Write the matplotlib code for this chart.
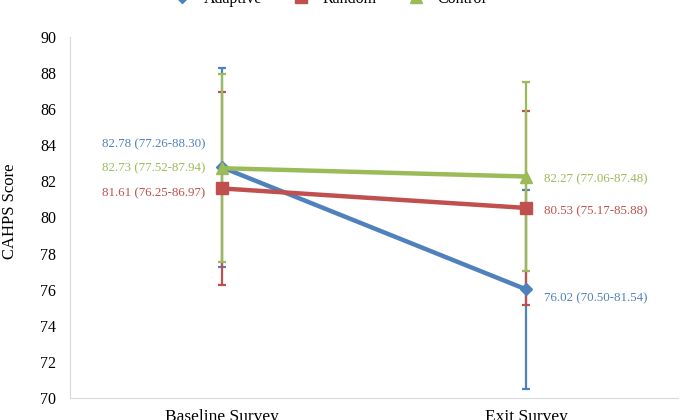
import matplotlib.pyplot as plt
from matplotlib.lines import Line2D

plt.rcParams['font.family'] = ['Liberation Serif', 'DejaVu Serif']

surveys = ["Baseline Survey", "Exit Survey"]
groups = ["Adaptive", "Random", "Control"]
means = {
    "Adaptive": [82.78, 76.02],
    "Random": [81.61, 80.53],
    "Control": [82.73, 82.27],
}
lower = {
    "Adaptive": [77.26, 70.50],
    "Random": [76.25, 75.17],
    "Control": [77.52, 77.06],
}
upper = {
    "Adaptive": [88.30, 81.54],
    "Random": [86.97, 85.88],
    "Control": [87.94, 87.48],
}

colors = {"Adaptive": "#4F81BD", "Random": "#C0504D", "Control": "#9BBB59"}
markers = {"Adaptive": "D", "Random": "s", "Control": "^"}
msizes = {"Adaptive": 6, "Random": 8, "Control": 8}
# label offsets in pixels (dx, dy) for each point
offsets = {
    "Adaptive": [(-17, 23), (18, -9)],
    "Random": [(-17, -5), (18, -3)],
    "Control": [(-17, 0), (18, -3)],
}

fig = plt.figure(figsize=(6.81, 4.2), dpi=100)
ax = fig.add_axes([70 / 681, 1 - 398 / 420, 608 / 681, 361 / 420])

x = list(range(len(surveys)))
handles = []
for g in groups:
    m = means[g]
    err = [[m[i] - lower[g][i] for i in x], [upper[g][i] - m[i] for i in x]]
    ax.errorbar(x, m, yerr=err, color=colors[g], lw=3.2, marker=markers[g],
                ms=msizes[g], elinewidth=1.6, capsize=3, capthick=1.6)
    handles.append(Line2D([], [], color=colors[g], lw=3.2, marker=markers[g],
                          ms=msizes[g], label=g))
    for i in x:
        txt = f"{m[i]:.2f} ({lower[g][i]:.2f}-{upper[g][i]:.2f})"
        dx, dy = offsets[g][i]
        ax.annotate(txt, (i, m[i]), xytext=(dx * 0.72, dy * 0.72),
                    textcoords="offset points", color=colors[g], fontsize=9.3,
                    ha="right" if i == 0 else "left", va="center")

ax.set_xlim(-0.5, 1.5)
ax.set_ylim(70, 90)
ax.set_yticks(range(70, 91, 2))
ax.set_xticks(x)
ax.set_xticklabels(surveys)
ax.tick_params(axis="both", length=0)
ax.tick_params(axis="y", pad=10, labelsize=11.5)
ax.tick_params(axis="x", pad=8, labelsize=12.5)
for s in ["top", "right"]:
    ax.spines[s].set_visible(False)
for s in ["left", "bottom"]:
    ax.spines[s].set_color("#D9D9D9")
ax.set_ylabel("CAHPS Score", fontsize=12)
ax.yaxis.set_label_coords(-52 / 608, 0.516)

fig.legend(handles=handles, loc="center", bbox_to_anchor=(325 / 681, 1 + 1 / 420),
           ncol=3, frameon=False, fontsize=11.5, handlelength=2.3,
           handletextpad=0.2, columnspacing=1.3)

fig.savefig("out.png", dpi=100)
